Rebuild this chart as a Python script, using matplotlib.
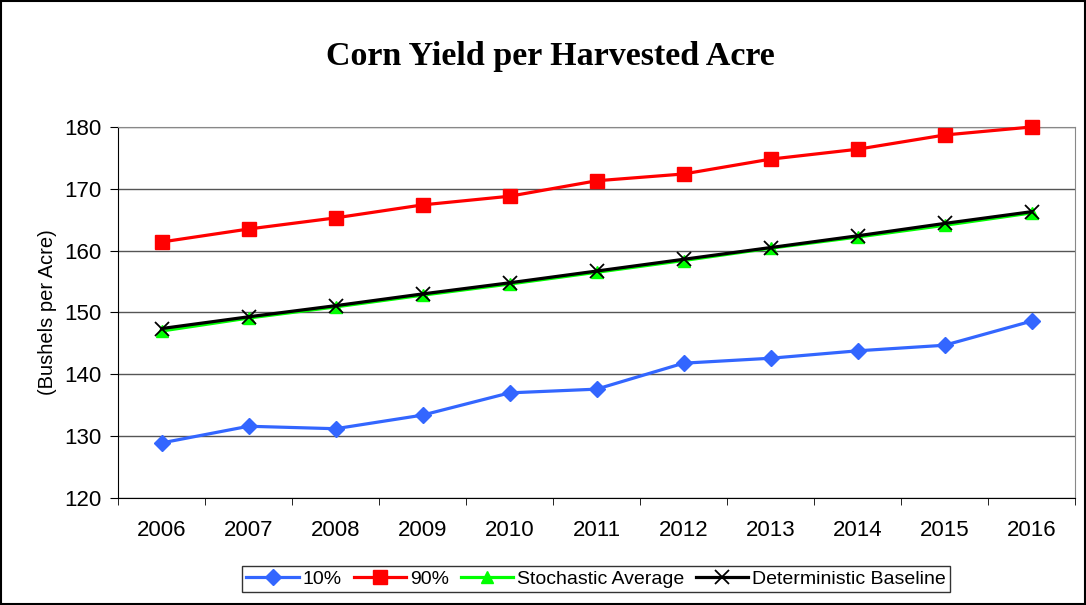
import matplotlib
matplotlib.use("Agg")
import matplotlib.pyplot as plt
import numpy as np

# data
years = ["2006", "2007", "2008", "2009", "2010", "2011",
         "2012", "2013", "2014", "2015", "2016"]
p10 = [128.9, 131.6, 131.2, 133.4, 137.0, 137.6,
       141.8, 142.6, 143.8, 144.7, 148.6]
p90 = [161.4, 163.5, 165.3, 167.4, 168.8, 171.3,
       172.4, 174.8, 176.4, 178.7, 180.0]
stoch_avg = [147.0, 149.1, 150.9, 152.8, 154.6, 156.5,
             158.4, 160.4, 162.2, 164.1, 166.1]
det_base = [147.4, 149.3, 151.1, 153.0, 154.8, 156.7,
            158.6, 160.5, 162.4, 164.4, 166.3]

plt.rcParams['font.family'] = ['Liberation Sans', 'DejaVu Sans']

fig = plt.figure(figsize=(10.86, 6.05), dpi=100)
ax = fig.add_axes([0.1087, 0.1769, 0.8812, 0.6132])

x = np.arange(len(years))
ax.plot(x, p10, color='#3366FF', lw=2.3, marker='D', ms=8,
        label='10%', zorder=3, clip_on=False)
ax.plot(x, p90, color='#FF0000', lw=2.3, marker='s', ms=9.5,
        label='90%', zorder=3, clip_on=False)
ax.plot(x, stoch_avg, color='#00FF00', lw=2.3, marker='^', ms=9,
        label='Stochastic Average', zorder=3, clip_on=False)
ax.plot(x, det_base, color='black', lw=2.3, marker='x', ms=10, mew=1.3,
        label='Deterministic Baseline', zorder=4, clip_on=False)

ax.set_xlim(-0.5, len(years) - 0.5)
ax.set_ylim(120, 180)
ax.set_yticks(range(120, 181, 10))
ax.yaxis.grid(True, color='#555555', lw=1)
ax.set_axisbelow(True)

# category labels in the middle, tick marks at the boundaries
ax.set_xticks(x)
ax.set_xticklabels(years)
ax.set_xticks(np.arange(-0.5, len(years), 1.0), minor=True)
ax.tick_params(axis='x', which='major', length=0, pad=16, labelsize=16)
ax.tick_params(axis='x', which='minor', length=5, direction='out')
ax.tick_params(axis='y', length=6, direction='out', labelsize=16, pad=6)

for side in ['top', 'right']:
    ax.spines[side].set_color('#888888')
for side in ['left', 'bottom']:
    ax.spines[side].set_color('black')

ax.set_ylabel('(Bushels per Acre)', fontsize=14.5, labelpad=5)

fig.text(0.507, 0.906, 'Corn Yield per Harvested Acre', ha='center',
         va='center', fontsize=24.5, fontweight='bold',
         family='Liberation Serif')

leg = fig.legend(loc='center', bbox_to_anchor=(0.549, 0.043), ncol=4,
                 fontsize=14, frameon=True, fancybox=False,
                 edgecolor='black', handlelength=2.7, handletextpad=0.2,
                 columnspacing=0.6, borderpad=0.2)
leg.get_frame().set_linewidth(1)

# outer border around the whole chart
fig.patches.append(plt.Rectangle((0.001, 0.001), 0.998, 0.997,
                                 transform=fig.transFigure, fill=False,
                                 edgecolor='black', lw=1.5))

fig.savefig('out.png', dpi=100)
